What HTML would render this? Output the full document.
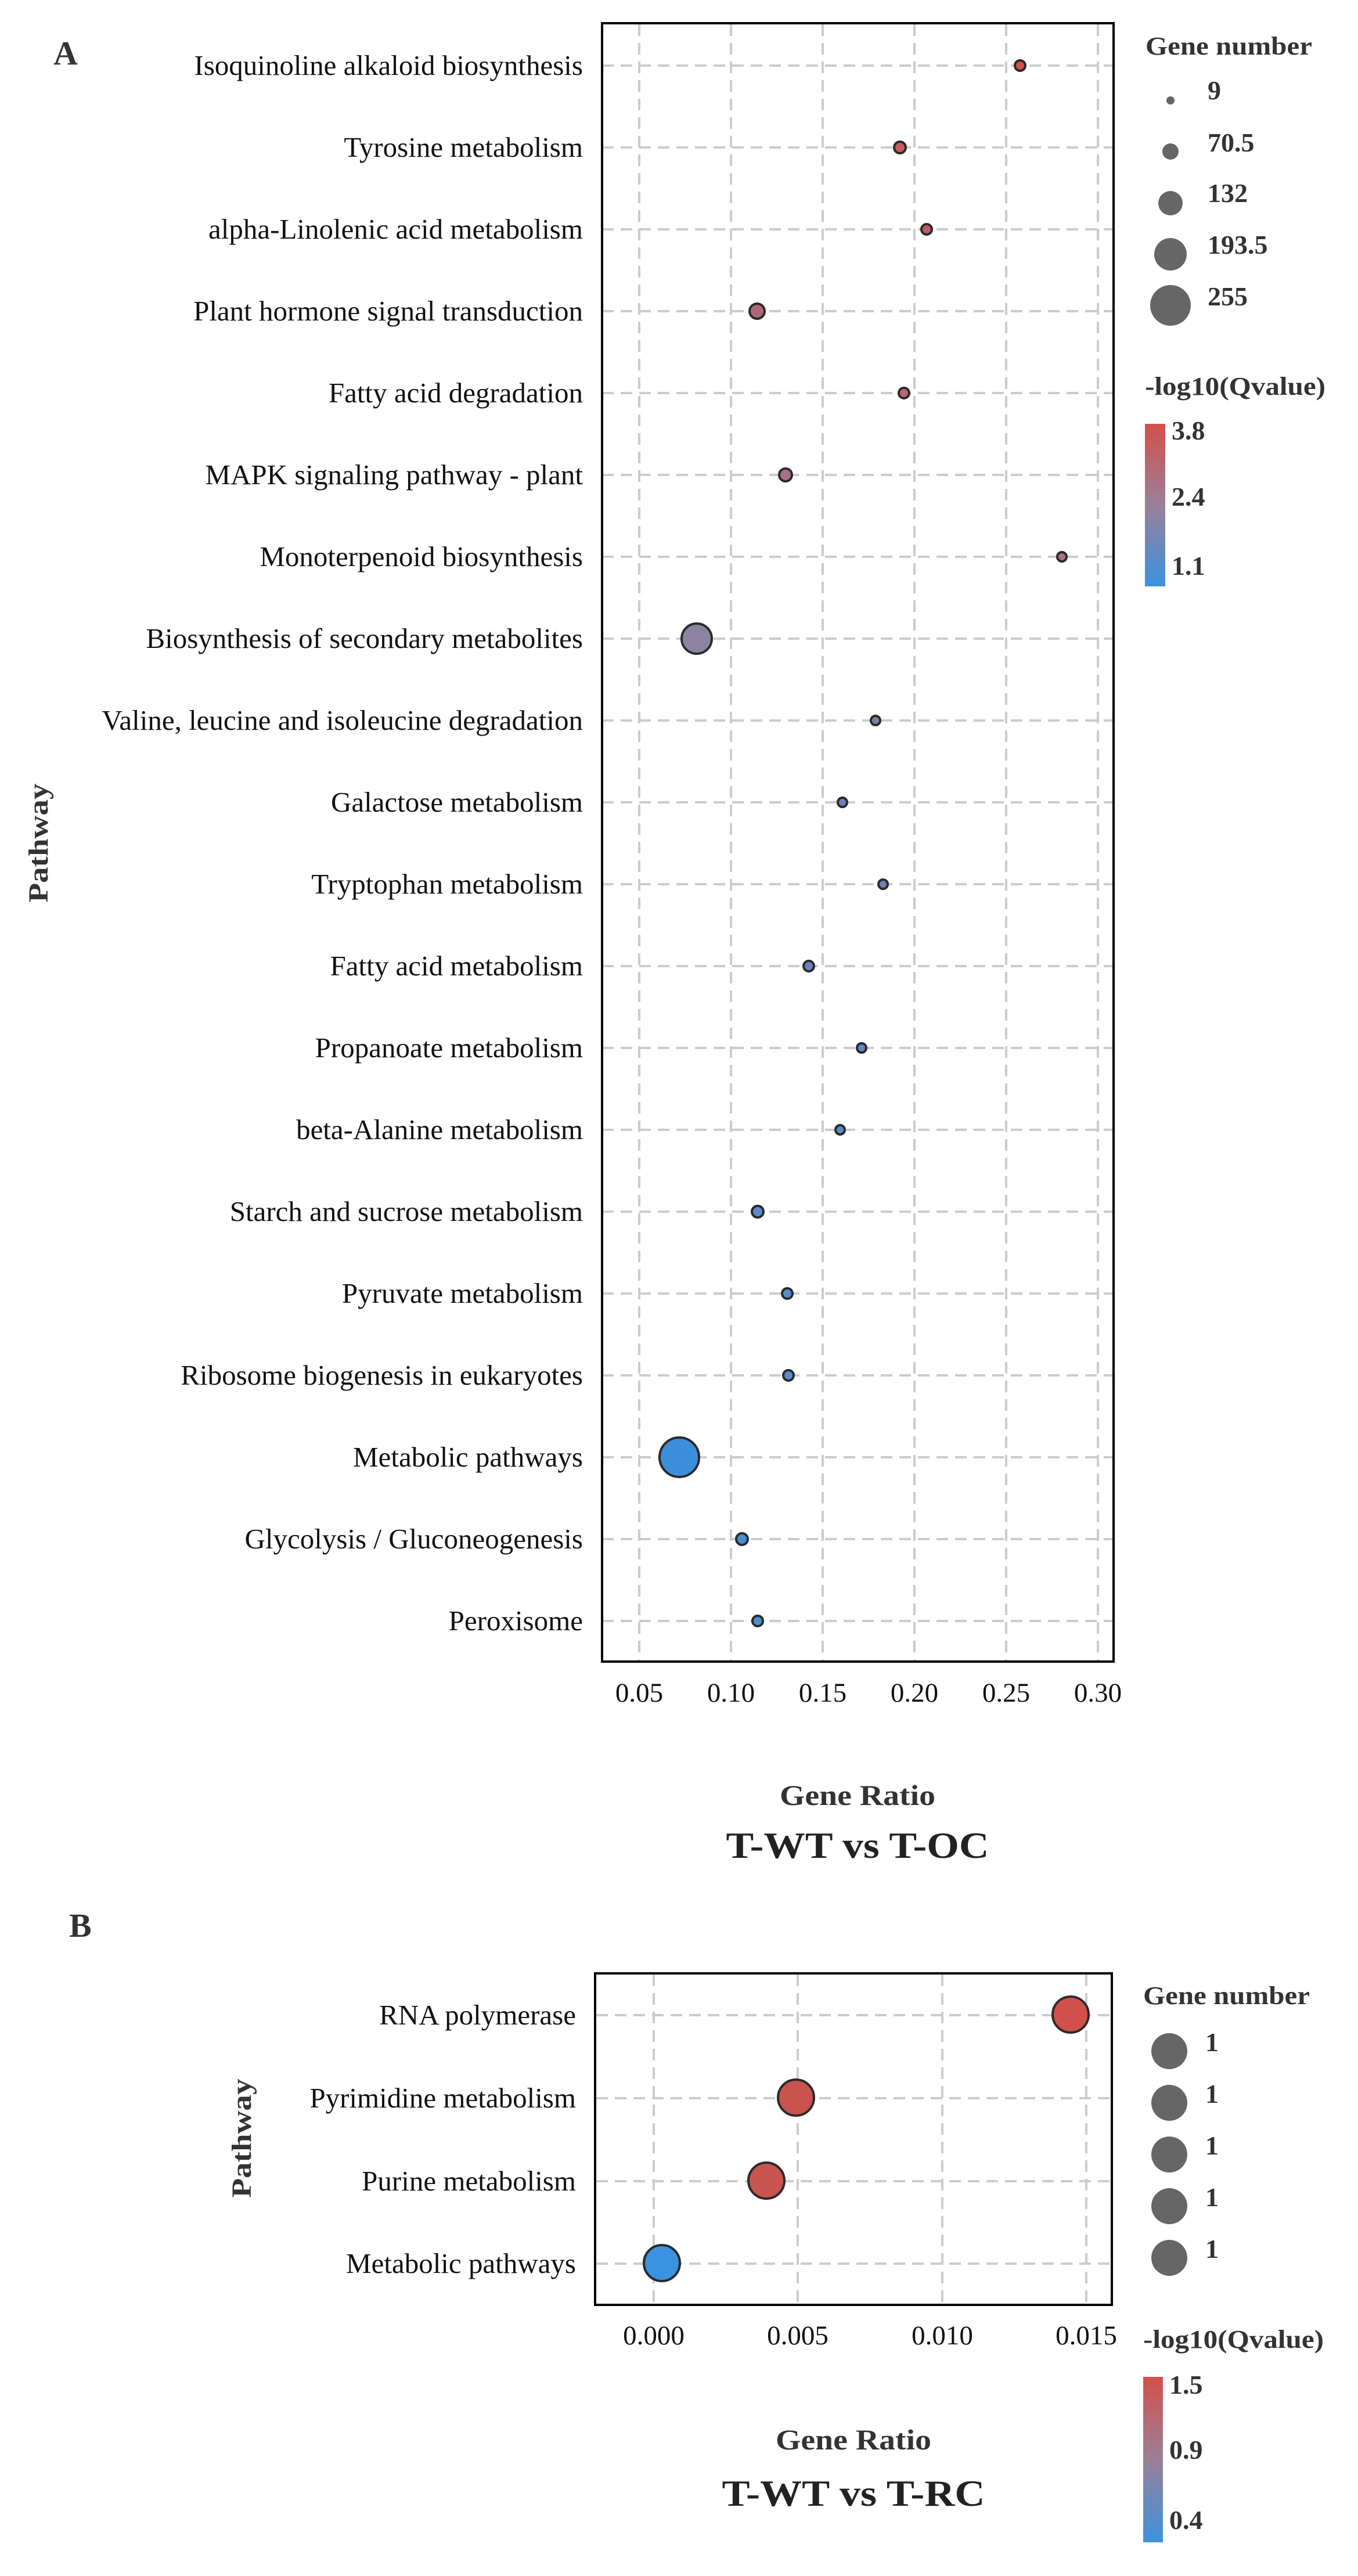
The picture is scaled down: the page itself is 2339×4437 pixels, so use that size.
<!DOCTYPE html>
<html><head><meta charset="utf-8"><style>html,body{margin:0;padding:0;background:#fff}svg{display:block}</style></head>
<body>
<svg xmlns="http://www.w3.org/2000/svg" width="2339" height="4437" viewBox="0 0 2339 4437" font-family="'Liberation Serif', serif">
<defs>
<linearGradient id="g" x1="0" y1="0" x2="0" y2="1">
<stop offset="0" stop-color="#d4504a"/><stop offset="0.5" stop-color="#9a8098"/><stop offset="1" stop-color="#3b93e0"/>
</linearGradient>
</defs>
<rect width="2339" height="4437" fill="#fff"/>
<!-- Panel A -->
<text x="92" y="111" font-size="58" font-weight="bold" fill="#333">A</text>
<text transform="translate(82,1452) rotate(-90)" text-anchor="middle" font-size="48" font-weight="bold" fill="#333" textLength="205" lengthAdjust="spacingAndGlyphs">Pathway</text>
<g stroke="#cccccc" stroke-width="4" stroke-dasharray="20,12">
<line x1="1101" y1="42" x2="1101" y2="2860"/><line x1="1259" y1="42" x2="1259" y2="2860"/><line x1="1417" y1="42" x2="1417" y2="2860"/><line x1="1575" y1="42" x2="1575" y2="2860"/><line x1="1733" y1="42" x2="1733" y2="2860"/><line x1="1891" y1="42" x2="1891" y2="2860"/>
<line x1="1037" y1="113" x2="1918" y2="113"/><line x1="1037" y1="254" x2="1918" y2="254"/><line x1="1037" y1="395" x2="1918" y2="395"/><line x1="1037" y1="536" x2="1918" y2="536"/><line x1="1037" y1="677" x2="1918" y2="677"/><line x1="1037" y1="818" x2="1918" y2="818"/><line x1="1037" y1="959" x2="1918" y2="959"/><line x1="1037" y1="1100" x2="1918" y2="1100"/><line x1="1037" y1="1241" x2="1918" y2="1241"/><line x1="1037" y1="1382" x2="1918" y2="1382"/><line x1="1037" y1="1523" x2="1918" y2="1523"/><line x1="1037" y1="1664" x2="1918" y2="1664"/><line x1="1037" y1="1805" x2="1918" y2="1805"/><line x1="1037" y1="1946" x2="1918" y2="1946"/><line x1="1037" y1="2087" x2="1918" y2="2087"/><line x1="1037" y1="2228" x2="1918" y2="2228"/><line x1="1037" y1="2369" x2="1918" y2="2369"/><line x1="1037" y1="2510" x2="1918" y2="2510"/><line x1="1037" y1="2651" x2="1918" y2="2651"/><line x1="1037" y1="2792" x2="1918" y2="2792"/>
</g>
<rect x="1037" y="40" width="881" height="2822" fill="none" stroke="#000" stroke-width="4"/>
<g font-size="49" fill="#111" text-anchor="end">
<text x="1004" y="129">Isoquinoline alkaloid biosynthesis</text>
<text x="1004" y="270">Tyrosine metabolism</text>
<text x="1004" y="411">alpha-Linolenic acid metabolism</text>
<text x="1004" y="552">Plant hormone signal transduction</text>
<text x="1004" y="693">Fatty acid degradation</text>
<text x="1004" y="834">MAPK signaling pathway - plant</text>
<text x="1004" y="975">Monoterpenoid biosynthesis</text>
<text x="1004" y="1116">Biosynthesis of secondary metabolites</text>
<text x="1004" y="1257">Valine, leucine and isoleucine degradation</text>
<text x="1004" y="1398">Galactose metabolism</text>
<text x="1004" y="1539">Tryptophan metabolism</text>
<text x="1004" y="1680">Fatty acid metabolism</text>
<text x="1004" y="1821">Propanoate metabolism</text>
<text x="1004" y="1962">beta-Alanine metabolism</text>
<text x="1004" y="2103">Starch and sucrose metabolism</text>
<text x="1004" y="2244">Pyruvate metabolism</text>
<text x="1004" y="2385">Ribosome biogenesis in eukaryotes</text>
<text x="1004" y="2526">Metabolic pathways</text>
<text x="1004" y="2667">Glycolysis / Gluconeogenesis</text>
<text x="1004" y="2808">Peroxisome</text>
</g>
<g stroke="#2a2a2a" stroke-width="4">
<circle cx="1757" cy="113" r="9" fill="#d4504a"/>
<circle cx="1550" cy="254" r="10" fill="#c85a5b"/>
<circle cx="1596" cy="395" r="9" fill="#c05a62"/>
<circle cx="1304" cy="536" r="13" fill="#b0667a"/>
<circle cx="1557" cy="677" r="9" fill="#b56a78"/>
<circle cx="1353" cy="818" r="11" fill="#a8718a"/>
<circle cx="1829" cy="959" r="8" fill="#a87288"/>
<circle cx="1200" cy="1100" r="26" fill="#8a84a2"/>
<circle cx="1508" cy="1241" r="8" fill="#7c7fa8"/>
<circle cx="1451" cy="1382" r="8" fill="#6b82b8"/>
<circle cx="1521" cy="1523" r="8" fill="#6f82b5"/>
<circle cx="1393" cy="1664" r="9" fill="#6385c0"/>
<circle cx="1484" cy="1805" r="8" fill="#6386c2"/>
<circle cx="1447" cy="1946" r="8" fill="#5e88c6"/>
<circle cx="1305" cy="2087" r="10" fill="#5a8ac8"/>
<circle cx="1356" cy="2228" r="9" fill="#568dcc"/>
<circle cx="1358" cy="2369" r="9" fill="#5a8ac8"/>
<circle cx="1170" cy="2510" r="34" fill="#3b8fdb"/>
<circle cx="1278" cy="2651" r="10" fill="#4a8dd4"/>
<circle cx="1305" cy="2792" r="9" fill="#4a8fd6"/>
</g>
<g font-size="47" fill="#111" text-anchor="middle">
<text x="1101" y="2931">0.05</text><text x="1259" y="2931">0.10</text><text x="1417" y="2931">0.15</text><text x="1575" y="2931">0.20</text><text x="1733" y="2931">0.25</text><text x="1891" y="2931">0.30</text>
</g>
<text x="1477" y="3109" font-size="50" font-weight="bold" fill="#333" text-anchor="middle" textLength="268" lengthAdjust="spacingAndGlyphs">Gene Ratio</text>
<text x="1477" y="3200" font-size="64" font-weight="bold" fill="#222" text-anchor="middle" textLength="453" lengthAdjust="spacingAndGlyphs">T-WT vs T-OC</text>
<!-- Legend A -->
<text x="1973" y="94" font-size="44" font-weight="bold" fill="#333" textLength="287" lengthAdjust="spacingAndGlyphs">Gene number</text>
<g fill="#666">
<circle cx="2016" cy="173" r="7"/><circle cx="2016" cy="261" r="14"/><circle cx="2016" cy="350" r="21"/><circle cx="2016" cy="438" r="28"/><circle cx="2016" cy="526" r="35"/>
</g>
<g font-size="46" font-weight="bold" fill="#333">
<text x="2080" y="171">9</text><text x="2080" y="261">70.5</text><text x="2080" y="348">132</text><text x="2080" y="437">193.5</text><text x="2080" y="526">255</text>
</g>
<text x="1972" y="680" font-size="44" font-weight="bold" fill="#333" textLength="311" lengthAdjust="spacingAndGlyphs">-log10(Qvalue)</text>
<rect x="1972" y="730" width="35" height="280" fill="url(#g)"/>
<g font-size="46" font-weight="bold" fill="#333">
<text x="2018" y="757">3.8</text><text x="2018" y="871">2.4</text><text x="2018" y="990">1.1</text>
</g>
<!-- Panel B -->
<text x="119" y="3336" font-size="58" font-weight="bold" fill="#333">B</text>
<text transform="translate(432,3683) rotate(-90)" text-anchor="middle" font-size="48" font-weight="bold" fill="#333" textLength="205" lengthAdjust="spacingAndGlyphs">Pathway</text>
<g stroke="#cccccc" stroke-width="4" stroke-dasharray="20,12">
<line x1="1126" y1="3401" x2="1126" y2="3968"/><line x1="1374" y1="3401" x2="1374" y2="3968"/><line x1="1623" y1="3401" x2="1623" y2="3968"/><line x1="1871" y1="3401" x2="1871" y2="3968"/>
<line x1="1027" y1="3471" x2="1913" y2="3471"/><line x1="1027" y1="3614" x2="1913" y2="3614"/><line x1="1027" y1="3757" x2="1913" y2="3757"/><line x1="1027" y1="3899" x2="1913" y2="3899"/>
</g>
<rect x="1025" y="3399" width="890" height="571" fill="none" stroke="#000" stroke-width="4"/>
<g font-size="49" fill="#111" text-anchor="end">
<text x="992" y="3487">RNA polymerase</text>
<text x="992" y="3630">Pyrimidine metabolism</text>
<text x="992" y="3773">Purine metabolism</text>
<text x="992" y="3915">Metabolic pathways</text>
</g>
<g stroke="#2a2a2a" stroke-width="4">
<circle cx="1844" cy="3470" r="31" fill="#d1504a"/>
<circle cx="1371" cy="3613" r="31" fill="#c9534e"/>
<circle cx="1320" cy="3756" r="31" fill="#c8554f"/>
<circle cx="1140" cy="3898" r="31" fill="#3a92e0"/>
</g>
<g font-size="47" fill="#111" text-anchor="middle">
<text x="1126" y="4038">0.000</text><text x="1374" y="4038">0.005</text><text x="1623" y="4038">0.010</text><text x="1871" y="4038">0.015</text>
</g>
<text x="1470" y="4219" font-size="50" font-weight="bold" fill="#333" text-anchor="middle" textLength="268" lengthAdjust="spacingAndGlyphs">Gene Ratio</text>
<text x="1470" y="4316" font-size="64" font-weight="bold" fill="#222" text-anchor="middle" textLength="453" lengthAdjust="spacingAndGlyphs">T-WT vs T-RC</text>
<text x="1969" y="3452" font-size="44" font-weight="bold" fill="#333" textLength="287" lengthAdjust="spacingAndGlyphs">Gene number</text>
<g fill="#666">
<circle cx="2014" cy="3533" r="31"/><circle cx="2014" cy="3622" r="31"/><circle cx="2014" cy="3711" r="31"/><circle cx="2014" cy="3800" r="31"/><circle cx="2014" cy="3889" r="31"/>
</g>
<g font-size="46" font-weight="bold" fill="#333">
<text x="2076" y="3533">1</text><text x="2076" y="3622">1</text><text x="2076" y="3711">1</text><text x="2076" y="3800">1</text><text x="2076" y="3889">1</text>
</g>
<text x="1969" y="4044" font-size="44" font-weight="bold" fill="#333" textLength="311" lengthAdjust="spacingAndGlyphs">-log10(Qvalue)</text>
<rect x="1969" y="4094" width="34" height="285" fill="url(#g)"/>
<g font-size="46" font-weight="bold" fill="#333">
<text x="2014" y="4123">1.5</text><text x="2014" y="4235">0.9</text><text x="2014" y="4356">0.4</text>
</g>
</svg>
</body></html>
